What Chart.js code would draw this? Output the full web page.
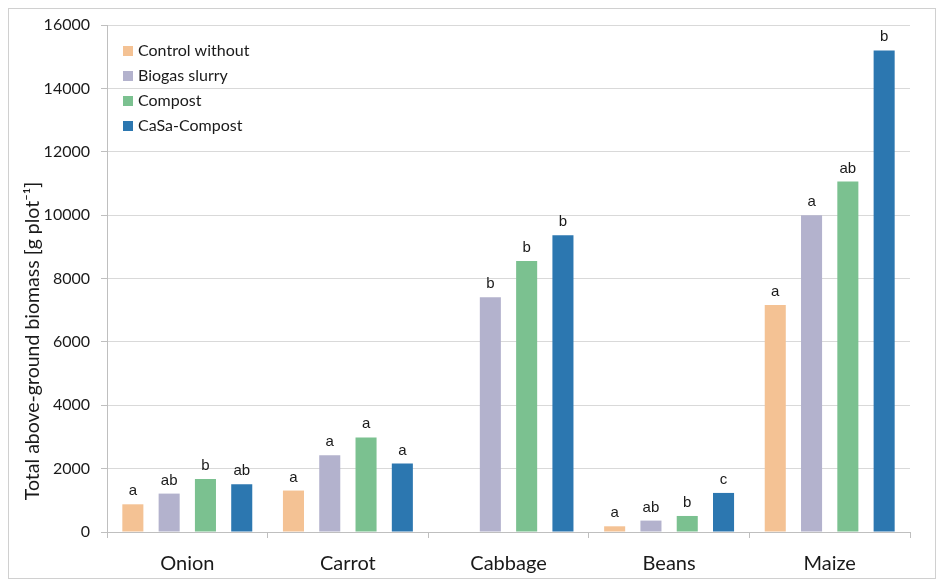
<!DOCTYPE html>
<html>
<head>
<meta charset="utf-8">
<script src="https://cdn.jsdelivr.net/npm/chart.js@4/dist/chart.umd.min.js"></script>
<style>
  html, body { margin: 0; padding: 0; background: #ffffff; }
  #wrap { width: 938px; height: 586px; position: relative; }
</style>
</head>
<body>
<div id="wrap"><canvas id="c" width="938" height="586"></canvas></div>
<script>
// Crops and treatments
const crops = ['Onion', 'Carrot', 'Cabbage', 'Beans', 'Maize'];
const treatments = ['Control without', 'Biogas slurry', 'Compost', 'CaSa-Compost'];

// Total above-ground biomass per treatment [g plot-1]
const controlValues = [874, 1308, null, 180, 7163];
const biogasValues  = [1212, 2423, 7406, 360, 9997];
const compostValues = [1672, 2983, 8553, 506, 11059];
const casaValues    = [1505, 2161, 9365, 1233, 15197];

// Significance letters per treatment
const controlLetters = ['a', 'a', '', 'a', 'a'];
const biogasLetters  = ['ab', 'a', 'b', 'ab', 'a'];
const compostLetters = ['b', 'a', 'b', 'b', 'ab'];
const casaLetters    = ['ab', 'a', 'b', 'c', 'b'];

// Y axis ticks
const yTicks = [0, 2000, 4000, 6000, 8000, 10000, 12000, 14000, 16000];
const yTitle = 'Total above-ground biomass [g plot\u207B\u00B9]';

const colors = ['#F4C294', '#B3B2CD', '#7BC190', '#2C77B0'];
const seriesValues = [controlValues, biogasValues, compostValues, casaValues];
const seriesLetters = [controlLetters, biogasLetters, compostLetters, casaLetters];

const UI_FONT = 'Lato, "Open Sans", sans-serif';

const datasets = treatments.map((name, i) => ({
  label: name,
  data: seriesValues[i],
  letters: seriesLetters[i],
  backgroundColor: colors[i],
  borderWidth: 0,
  categoryPercentage: 0.904,
  barPercentage: 0.58
}));

// Frame around the whole figure
const framePlugin = {
  id: 'frame',
  beforeDraw(chart) {
    const ctx = chart.ctx;
    ctx.save();
    ctx.fillStyle = '#ffffff';
    ctx.fillRect(0, 0, chart.width, chart.height);
    ctx.strokeStyle = '#d0d0d0';
    ctx.lineWidth = 1;
    ctx.strokeRect(8.5, 8.5, 927, 570);
    ctx.restore();
  }
};

// Letters above each bar
const lettersPlugin = {
  id: 'letters',
  afterDatasetsDraw(chart) {
    const ctx = chart.ctx;
    ctx.save();
    ctx.font = '15px "Liberation Sans", Arial, sans-serif';
    ctx.fillStyle = '#1a1a1a';
    ctx.textAlign = 'center';
    ctx.textBaseline = 'alphabetic';
    chart.data.datasets.forEach((ds, di) => {
      const meta = chart.getDatasetMeta(di);
      meta.data.forEach((bar, i) => {
        const txt = ds.letters[i];
        if (!txt || ds.data[i] == null) return;
        ctx.fillText(txt, bar.x, bar.y - 9);
      });
    });
    ctx.restore();
  }
};

// Legend drawn inside the plot area, top-left
const insideLegendPlugin = {
  id: 'insideLegend',
  afterDraw(chart) {
    const ctx = chart.ctx;
    ctx.save();
    ctx.font = '16px ' + UI_FONT;
    ctx.textBaseline = 'middle';
    ctx.textAlign = 'left';
    chart.data.datasets.forEach((ds, i) => {
      const cy = 51 + i * 25;
      ctx.fillStyle = ds.backgroundColor;
      ctx.fillRect(123, cy - 5, 10, 10);
      ctx.fillStyle = '#1a1a1a';
      ctx.fillText(ds.label, 138, cy);
    });
    ctx.restore();
  }
};

// Rotated y axis title
const yTitlePlugin = {
  id: 'yTitle',
  afterDraw(chart) {
    const ctx = chart.ctx;
    ctx.save();
    ctx.translate(33, 341);
    ctx.rotate(-Math.PI / 2);
    ctx.font = '19.5px ' + UI_FONT;
    ctx.fillStyle = '#1a1a1a';
    ctx.textAlign = 'center';
    ctx.textBaseline = 'middle';
    ctx.fillText(yTitle, 0, 0);
    ctx.restore();
  }
};

new Chart(document.getElementById('c'), {
  type: 'bar',
  data: { labels: crops, datasets },
  options: {
    responsive: false,
    animation: false,
    devicePixelRatio: 1,
    layout: { padding: { top: 25, right: 28, left: 0, bottom: 0 } },
    plugins: {
      legend: { display: false },
      tooltip: { enabled: false }
    },
    scales: {
      x: {
        offset: true,
        grid: {
          offset: true,
          drawOnChartArea: false,
          drawTicks: true,
          tickLength: 6,
          color: '#bfbfbf'
        },
        border: { color: '#bfbfbf' },
        ticks: {
          font: { family: UI_FONT, size: 20 },
          color: '#1a1a1a',
          padding: 14
        },
        afterFit(scale) { scale.height = 54; }
      },
      y: {
        min: 0,
        max: 16000,
        afterBuildTicks(scale) { scale.ticks = yTicks.map(v => ({ value: v })); },
        grid: {
          color: '#d9d9d9',
          tickLength: 6,
          tickColor: '#bfbfbf'
        },
        border: { color: '#bfbfbf' },
        ticks: {
          font: { family: UI_FONT, size: 16 },
          color: '#1a1a1a',
          padding: 11,
          callback: (v) => String(v)
        },
        afterFit(scale) { scale.width = 107; }
      }
    }
  },
  plugins: [framePlugin, lettersPlugin, insideLegendPlugin, yTitlePlugin]
});
</script>
</body>
</html>
